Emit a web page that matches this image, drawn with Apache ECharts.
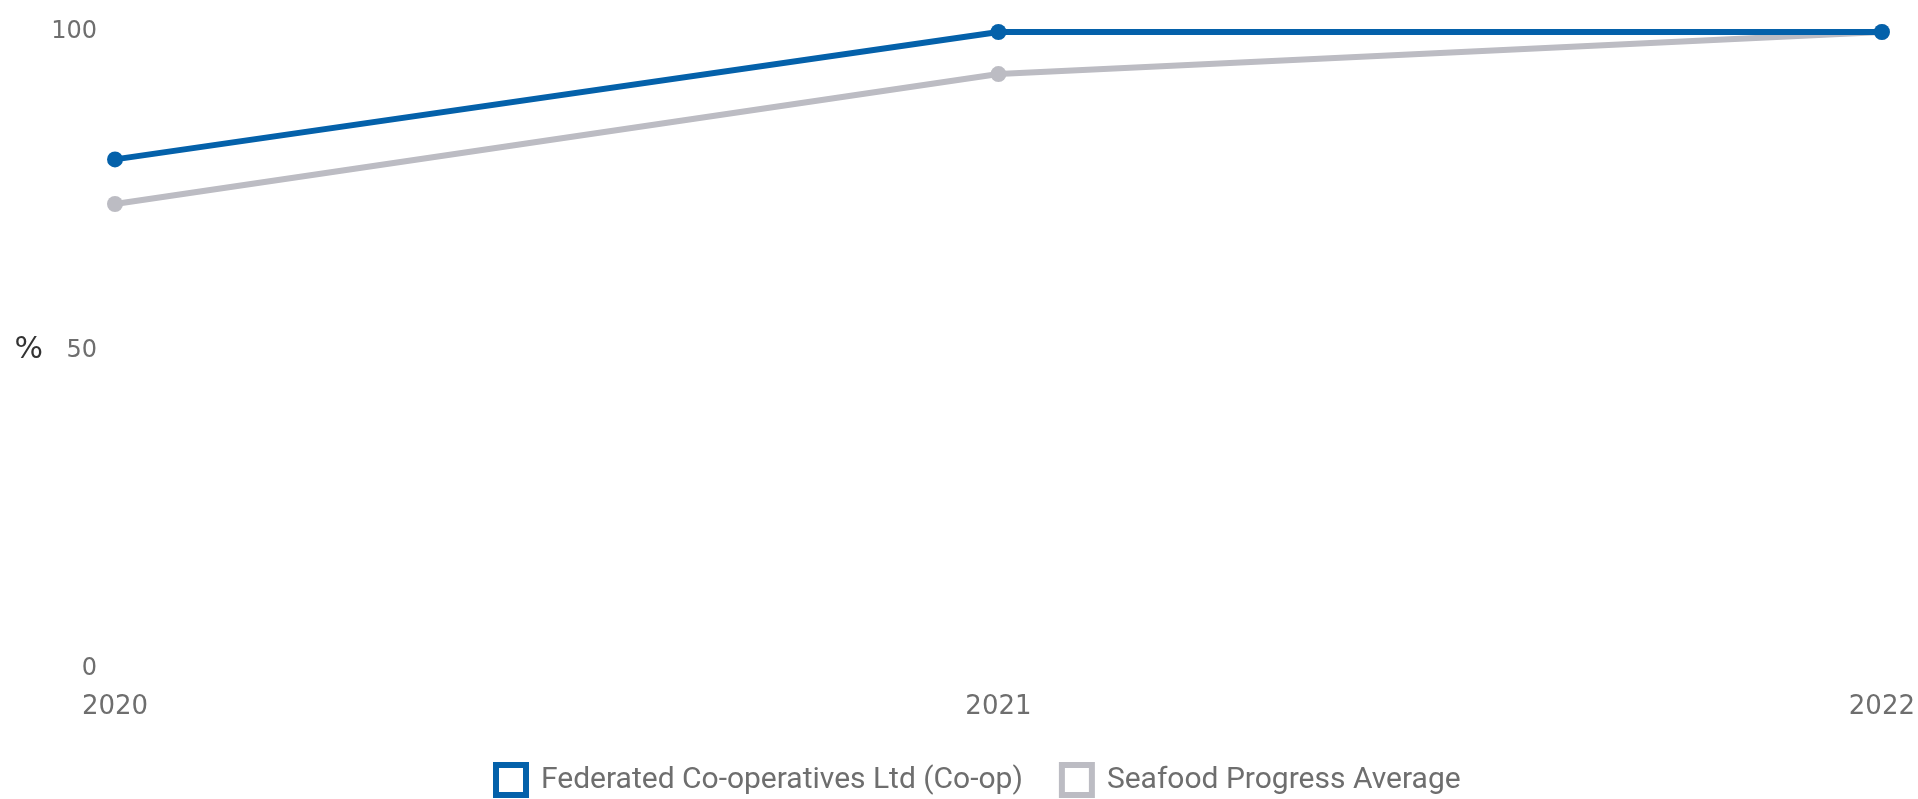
<!DOCTYPE html>
<html>
<head>
<meta charset="utf-8">
<script src="https://cdn.jsdelivr.net/npm/echarts@6/dist/echarts.min.js"></script>
<style>
html,body{margin:0;padding:0;background:#fff;}
#chart{width:1918px;height:799px;}
</style>
</head>
<body>
<div id="chart"></div>
<script>
const categories = ['2020', '2021', '2022'];
const coopValues = [80, 100, 100];
const averageValues = [73, 93.4, 100];
const seriesNames = ['Federated Co-operatives Ltd (Co-op)', 'Seafood Progress Average'];
const yTicks = [0, 50, 100];

const BLUE = '#0461aa';
const GREY = '#bcbcc3';

const chart = echarts.init(document.getElementById('chart'));
chart.setOption({
  animation: false,
  backgroundColor: '#fff',
  grid: { left: 115, right: 34, top: 32, bottom: 130, containLabel: false },
  legend: {
    left: 488,
    top: 757,
    itemWidth: 30,
    itemHeight: 30,
    itemGap: 36,
    icon: 'rect',
    textStyle: { fontFamily: 'Roboto, sans-serif', fontSize: 30, color: '#6e6e6e', padding: [0, 0, 0, 10] },
    data: [
      { name: seriesNames[0], itemStyle: { color: '#fff', borderColor: BLUE, borderWidth: 6 }, lineStyle: { width: 0 } },
      { name: seriesNames[1], itemStyle: { color: '#fff', borderColor: GREY, borderWidth: 6 }, lineStyle: { width: 0 } }
    ]
  },
  xAxis: {
    type: 'category',
    data: categories,
    boundaryGap: false,
    axisLine: { show: false },
    axisTick: { show: false },
    splitLine: { show: false },
    axisLabel: { margin: 25, fontFamily: 'DejaVu Sans', fontSize: 26, color: '#6e6e6e' }
  },
  yAxis: {
    type: 'value',
    min: yTicks[0],
    max: yTicks[yTicks.length - 1],
    interval: 50,
    name: '%',
    nameLocation: 'middle',
    nameRotate: 0,
    nameGap: 72,
    nameTextStyle: { fontFamily: 'DejaVu Sans', fontSize: 30, color: '#333' },
    axisLine: { show: false },
    axisTick: { show: false },
    splitLine: { show: false },
    axisLabel: { margin: 18, fontFamily: 'DejaVu Sans', fontSize: 24, color: '#6e6e6e' }
  },
  series: [
    {
      name: seriesNames[1],
      type: 'line',
      data: averageValues,
      color: GREY,
      symbol: 'circle',
      symbolSize: 16,
      lineStyle: { width: 6, color: GREY },
      itemStyle: { color: GREY },
      z: 2
    },
    {
      name: seriesNames[0],
      type: 'line',
      data: coopValues,
      color: BLUE,
      symbol: 'circle',
      symbolSize: 16,
      lineStyle: { width: 6, color: BLUE },
      itemStyle: { color: BLUE },
      z: 3
    }
  ]
});
</script>
</body>
</html>
